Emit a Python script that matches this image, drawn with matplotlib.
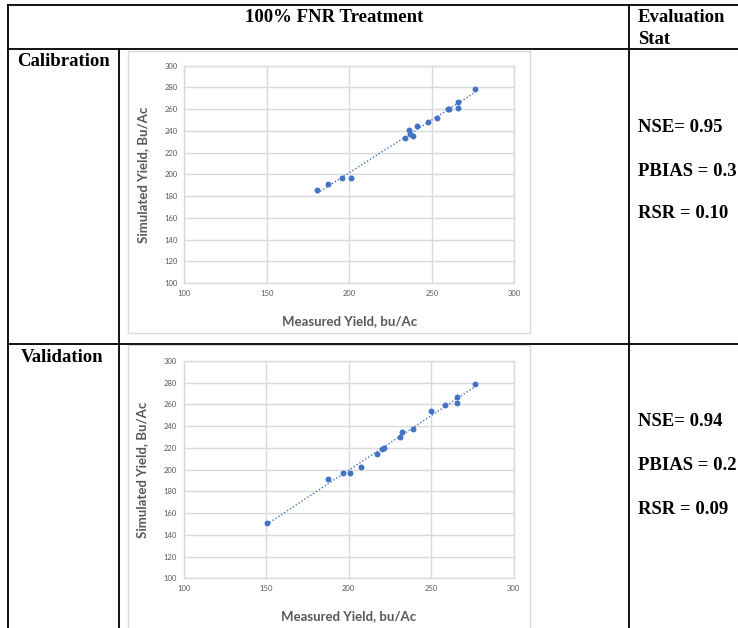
import numpy as np
import matplotlib
matplotlib.use("Agg")
import matplotlib.pyplot as plt
from matplotlib.lines import Line2D
from matplotlib.patches import Rectangle

# Calibration period: measured vs simulated yield (bu/Ac)
cal_measured = [180.6, 187.1, 195.8, 200.8, 233.5, 236.3, 236.8, 238.8,
                241.2, 247.9, 252.9, 259.8, 260.4, 265.7, 265.7, 276.4]
cal_simulated = [185.3, 191.1, 196.6, 196.6, 233.4, 240.5, 237.5, 235.6,
                 244.5, 248.2, 251.8, 260.0, 260.3, 266.6, 261.0, 278.2]

# Validation period
val_measured = [150.3, 187.3, 196.6, 200.8, 207.3, 217.2, 220.2, 221.2,
                231.1, 232.1, 239.2, 250.1, 258.2, 265.9, 265.9, 276.8]
val_simulated = [151.2, 191.1, 196.9, 196.9, 202.5, 214.1, 219.3, 219.5,
                 230.4, 235.0, 237.1, 254.3, 259.2, 266.9, 261.0, 278.5]

cal_stats = ["NSE= 0.95", "PBIAS = 0.3", "RSR = 0.10"]
val_stats = ["NSE= 0.94", "PBIAS = 0.2", "RSR = 0.09"]

x_ticks = [100, 150, 200, 250, 300]
y_ticks = [100, 120, 140, 160, 180, 200, 220, 240, 260, 280, 300]

W, H = 738, 628
fig = plt.figure(figsize=(W / 100, H / 100), dpi=100)
fig.patch.set_facecolor("white")


def fx(x):
    return x / W


def fy(y):
    return 1 - y / H


def hline(y, x0, x1, lw=1.3):
    fig.add_artist(Line2D([fx(x0), fx(x1)], [fy(y), fy(y)], color="black",
                          lw=lw, transform=fig.transFigure))


def vline(x, y0, y1, lw=1.3):
    fig.add_artist(Line2D([fx(x), fx(x)], [fy(y0), fy(y1)], color="black",
                          lw=lw, transform=fig.transFigure))


# table grid
hline(5, 8, W)
hline(49, 8, W)
hline(344, 8, W)
vline(8, 5, H)
vline(119, 49, H)
vline(629, 5, H)

serif = dict(family="Liberation Serif", weight="bold", color="black", fontsize=13.5)
fig.text(fx(334), fy(17), "100% FNR Treatment", ha="center", va="center", **serif)
fig.text(fx(638), fy(17), "Evaluation", ha="left", va="center", **serif)
fig.text(fx(638), fy(39), "Stat", ha="left", va="center", **serif)
fig.text(fx(17), fy(62), "Calibration", ha="left", va="center", **serif)
fig.text(fx(21), fy(357), "Validation", ha="left", va="center", **serif)

for s, y in zip(cal_stats, [127, 171, 214]):
    fig.text(fx(638), fy(y), s, ha="left", va="center", **serif)
for s, y in zip(val_stats, [422, 466, 509]):
    fig.text(fx(638), fy(y), s, ha="left", va="center", **serif)

blue = "#4472C4"
grid = "#d9d9d9"
tick_col = "#595959"


def chart(box, plot, measured, simulated, xlabel_y, ylabel_x):
    bx0, by0, bx1, by1 = box
    fig.add_artist(Rectangle((fx(bx0), fy(by1)), fx(bx1) - fx(bx0), fy(by0) - fy(by1),
                             transform=fig.transFigure, facecolor="white",
                             edgecolor=grid, lw=1.0, zorder=0.5))
    px0, py0, px1, py1 = plot
    ax = fig.add_axes([fx(px0), fy(py1), fx(px1) - fx(px0), fy(py0) - fy(py1)])
    ax.set_zorder(2)
    ax.patch.set_alpha(0)
    ax.set_xlim(100, 300)
    ax.set_ylim(100, 300)
    ax.set_xticks(x_ticks)
    ax.set_yticks(y_ticks)
    ax.grid(True, color=grid, lw=1.0)
    ax.set_axisbelow(True)
    for sp in ax.spines.values():
        sp.set_color(grid)
        sp.set_linewidth(1.0)
    ax.tick_params(length=0, labelsize=5.5, labelcolor=tick_col, pad=5,
                   labelfontfamily="Lato")
    ax.scatter(measured, simulated, s=18, color=blue, zorder=3, linewidths=0)
    m, c = np.polyfit(measured, simulated, 1)
    xs = np.array([min(measured), max(measured)])
    ax.plot(xs, m * xs + c, color=blue, lw=1.0, ls=(0, (1, 1.5)), zorder=2)
    fig.text(fx((px0 + px1) / 2), fy(xlabel_y), "Measured Yield, bu/Ac",
             ha="center", va="center", fontsize=9.5, color=tick_col,
             family="Lato", weight="bold", zorder=3)
    fig.text(fx(ylabel_x), fy((py0 + py1) / 2), "Simulated Yield, Bu/Ac",
             ha="center", va="center", rotation=90, fontsize=9.5, color=tick_col,
             family="Lato", weight="bold", zorder=3)
    return ax


chart((128, 51, 530, 333), (184.3, 65.7, 514.3, 283.0),
      cal_measured, cal_simulated, 321, 143)
chart((128, 345, 530, 640), (183.7, 361.0, 513.7, 578.3),
      val_measured, val_simulated, 616, 142)

fig.savefig("out.png", dpi=100, facecolor="white")
